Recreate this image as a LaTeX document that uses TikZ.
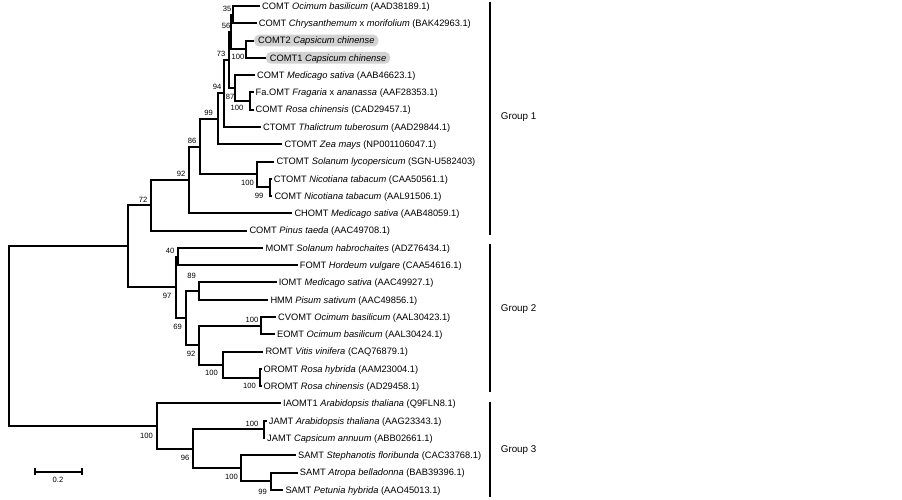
\documentclass[tikz,border=0pt]{standalone}
\usepackage{fontspec}
\setmainfont{Liberation Sans}
\usepackage{tikz}
\usetikzlibrary{positioning}

\begin{document}
\begin{tikzpicture}[x=1pt,y=-1pt,
  br/.style={line width=2pt},
  leaf/.style={anchor=west,inner xsep=2pt,inner ysep=0pt,text height=6.6pt,text depth=0pt,font=\fontsize{9.3}{11}\selectfont},
  hl/.style={leaf,fill=gray!35,rounded corners=5pt,inner xsep=4pt,inner ysep=2.6pt},
  bs/.style={inner sep=0pt,font=\fontsize{7.6}{9}\selectfont},
  grp/.style={line width=2.4pt},
  grplab/.style={anchor=west,inner sep=0pt,font=\fontsize{9.8}{11}\selectfont}]
\path[use as bounding box] (0,0) rectangle (902,499);

% leaves
\node[leaf] (l1) at (260,6) {COMT \textit{Ocimum basilicum} (AAD38189.1)};
\node[leaf] (l2) at (256.7,23.28) {COMT \textit{Chrysanthemum} x \textit{morifolium} (BAK42963.1)};
\node[hl] (l3) at (254,40.56) {COMT2 \textit{Capsicum chinense}\hspace{8pt}};
\node[hl] (l4) at (265.7,57.84) {COMT1 \textit{Capsicum chinense}\hspace{8pt}};
\node[leaf] (l5) at (255,75.12) {COMT \textit{Medicago sativa} (AAB46623.1)};
\node[leaf] (l6) at (253.5,92.40) {Fa.OMT \textit{Fragaria} x \textit{ananassa} (AAF28353.1)};
\node[leaf] (l7) at (253.5,109.68) {COMT \textit{Rosa chinensis} (CAD29457.1)};
\node[leaf] (l8) at (261,126.96) {CTOMT \textit{Thalictrum tuberosum} (AAD29844.1)};
\node[leaf] (l9) at (282.3,144.24) {CTOMT \textit{Zea mays} (NP001106047.1)};
\node[leaf] (l10) at (274.3,161.52) {CTOMT \textit{Solanum lycopersicum} (SGN-U582403)};
\node[leaf] (l11) at (271.7,178.80) {CTOMT \textit{Nicotiana tabacum} (CAA50561.1)};
\node[leaf] (l12) at (272.3,196.08) {COMT \textit{Nicotiana tabacum} (AAL91506.1)};
\node[leaf] (l13) at (292.3,213.36) {CHOMT \textit{Medicago sativa} (AAB48059.1)};
\node[leaf] (l14) at (247.3,230.64) {COMT \textit{Pinus taeda} (AAC49708.1)};
\node[leaf] (l15) at (263.3,247.92) {MOMT \textit{Solanum habrochaites} (ADZ76434.1)};
\node[leaf] (l16) at (297.7,265.20) {FOMT \textit{Hordeum vulgare} (CAA54616.1)};
\node[leaf] (l17) at (276.7,282.48) {IOMT \textit{Medicago sativa} (AAC49927.1)};
\node[leaf] (l18) at (268.3,299.76) {HMM \textit{Pisum sativum} (AAC49856.1)};
\node[leaf] (l19) at (276,317.04) {CVOMT \textit{Ocimum basilicum} (AAL30423.1)};
\node[leaf] (l20) at (275,334.32) {EOMT \textit{Ocimum basilicum} (AAL30424.1)};
\node[leaf] (l21) at (263.3,351.60) {ROMT \textit{Vitis vinifera} (CAQ76879.1)};
\node[leaf] (l22) at (261.5,368.88) {OROMT \textit{Rosa hybrida} (AAM23004.1)};
\node[leaf] (l23) at (261.5,386.16) {OROMT \textit{Rosa chinensis} (AD29458.1)};
\node[leaf] (l24) at (281,403.44) {IAOMT1 \textit{Arabidopsis thaliana} (Q9FLN8.1)};
\node[leaf] (l25) at (266.7,420.72) {JAMT \textit{Arabidopsis thaliana} (AAG23343.1)};
\node[leaf] (l26) at (265,438.00) {JAMT \textit{Capsicum annuum} (ABB02661.1)};
\node[leaf] (l27) at (296,455.28) {SAMT \textit{Stephanotis floribunda} (CAC33768.1)};
\node[leaf] (l28) at (297.7,472.56) {SAMT \textit{Atropa belladonna} (BAB39396.1)};
\node[leaf] (l29) at (283.3,489.84) {SAMT \textit{Petunia hybrida} (AAO45013.1)};

% inner nodes
\coordinate (root) at (9.3,336.23);
\coordinate (nA) at (128,246.34);
\coordinate (n72) at (151,205.33);
\coordinate (n92a) at (189.3,180.02);
\coordinate (n86) at (200,146.67);
\coordinate (n99a) at (218,118.86);
\coordinate (n94) at (223.5,93.48);
\coordinate (n73) at (229,60.00);
\coordinate (n56) at (230.5,31.92);
\coordinate (n35) at (233,14.64);
\coordinate (n100a) at (246,49.20);
\coordinate (n87) at (234.5,88.08);
\coordinate (n100b) at (249.5,101.04);
\coordinate (n100c) at (257,174.48);
\coordinate (n99b) at (269.5,187.44);
\coordinate (n97) at (175.7,287.34);
\coordinate (n40) at (178,256.56);
\coordinate (n69) at (186,318.12);
\coordinate (n89) at (199.3,291.12);
\coordinate (n92b) at (199.3,345.12);
\coordinate (n100d) at (261,325.68);
\coordinate (n100f) at (222.7,364.56);
\coordinate (n100e) at (260,377.52);
\coordinate (n100g) at (156.7,426.12);
\coordinate (n96) at (192.7,448.80);
\coordinate (n100h) at (263.5,429.36);
\coordinate (n100i) at (241.3,468.24);
\coordinate (n99c) at (270.5,481.20);

% branches
\draw[br] (nA) -| (root) |- (n100g);
\draw[br] (n72) -| (nA) |- (n97);
\draw[br] (n92a) -| (n72) |- (l14);
\draw[br] (n86) -| (n92a) |- (l13);
\draw[br] (n99a) -| (n86) |- (n100c);
\draw[br] (n94) -| (n99a) |- (l9);
\draw[br] (n73) -| (n94) |- (l8);
\draw[br] (n56) -| (n73) |- (n87);
\draw[br] (n35) -| (n56) |- (n100a);
\draw[br] (l1) -| (n35) |- (l2);
\draw[br] (l3) -| (n100a) |- (l4);
\draw[br] (l5) -| (n87) |- (n100b);
\draw[br] (l6) -| (n100b) |- (l7);
\draw[br] (l10) -| (n100c) |- (n99b);
\draw[br] (l11) -| (n99b) |- (l12);
\draw[br] (n40) -| (n97) |- (n69);
\draw[br] (l15) -| (n40) |- (l16);
\draw[br] (n89) -| (n69) |- (n92b);
\draw[br] (l17) -| (n89) |- (l18);
\draw[br] (n100d) -| (n92b) |- (n100f);
\draw[br] (l19) -| (n100d) |- (l20);
\draw[br] (l21) -| (n100f) |- (n100e);
\draw[br] (l22) -| (n100e) |- (l23);
\draw[br] (l24) -| (n100g) |- (n96);
\draw[br] (n100h) -| (n96) |- (n100i);
\draw[br] (l25) -| (n100h) |- (l26);
\draw[br] (l27) -| (n100i) |- (n99c);
\draw[br] (l28) -| (n99c) |- (l29);

% bootstrap values
\node[bs] (b35) at (227,9) {35};
\node[bs] (b56) at (226,26) {56};
\node[bs] (b100a) at (238,57) {100};
\node[bs] (b73) at (221,54) {73};
\node[bs] (b94) at (217,87) {94};
\node[bs] (b87) at (230,97) {87};
\node[bs] (b100b) at (237,108) {100};
\node[bs] (b99a) at (208.5,113) {99};
\node[bs] (b86) at (192,140.5) {86};
\node[bs] (b92a) at (181,174) {92};
\node[bs] (b72) at (143,199.5) {72};
\node[bs] (b100c) at (247.5,182.5) {100};
\node[bs] (b99b) at (259,196) {99};
\node[bs] (b40) at (170,251) {40};
\node[bs] (b97) at (167,296) {97};
\node[bs] (b89) at (191.5,276) {89};
\node[bs] (b69) at (177.5,327) {69};
\node[bs] (b100d) at (252,320) {100};
\node[bs] (b92b) at (191,354) {92};
\node[bs] (b100f) at (211.5,373) {100};
\node[bs] (b100e) at (249.5,385.5) {100};
\node[bs] (b100g) at (146.5,435.5) {100};
\node[bs] (b96) at (185,458) {96};
\node[bs] (b100h) at (252,424) {100};
\node[bs] (b100i) at (231.5,476.5) {100};
\node[bs] (b99c) at (262.5,491.5) {99};

% scale bar
\coordinate (sbl) at (35,471.7);
\coordinate (sbr) at (81.7,471.7);
\draw[br] (sbl) -- (sbr);
\draw[br] ([yshift=3.6pt]sbl) -- ([yshift=-3.6pt]sbl);
\draw[br] ([yshift=3.6pt]sbr) -- ([yshift=-3.6pt]sbr);
\node[bs] (sblab) at (58,479.5) {0.2};

% groups
\draw[grp] (490,1.7) -- (490,235);
\draw[grp] (490,244.3) -- (490,391.7);
\draw[grp] (490,401.7) -- (490,496.7);
\node[grplab] (g1) at (500.7,116.7) {Group 1};
\node[grplab] (g2) at (500.7,309.3) {Group 2};
\node[grplab] (g3) at (500.7,450) {Group 3};
\end{tikzpicture}
\end{document}
